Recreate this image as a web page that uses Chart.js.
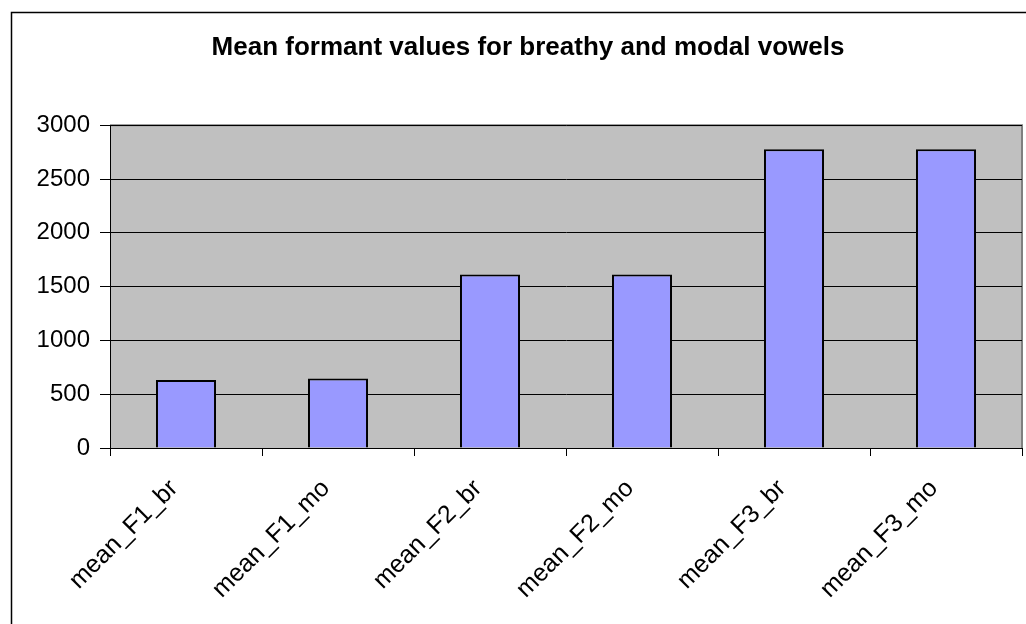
<!DOCTYPE html>
<html>
<head>
<meta charset="utf-8">
<script src="https://cdn.jsdelivr.net/npm/chart.js@4"></script>
<style>
  html, body { margin: 0; padding: 0; background: #fff; }
  #wrap { width: 1026px; height: 624px; position: relative; }
</style>
</head>
<body>
<div id="wrap"><canvas id="chart" width="1026" height="624"></canvas></div>
<script>
// Daten
const kategorien = ['mean_F1_br', 'mean_F1_mo', 'mean_F2_br', 'mean_F2_mo', 'mean_F3_br', 'mean_F3_mo'];
const mittelwerte = [631, 647, 1613, 1613, 2776, 2776];
const yTicks = [0, 500, 1000, 1500, 2000, 2500, 3000];

// Rahmen und grauer Plotbereich
const hintergrund = {
  id: 'hintergrund',
  beforeDraw(chart) {
    const { ctx, chartArea: a } = chart;
    ctx.save();
    ctx.strokeStyle = '#000';
    ctx.lineWidth = 1.5;
    ctx.beginPath();
    ctx.moveTo(11.5, 630);
    ctx.lineTo(11.5, 12.5);
    ctx.lineTo(1030, 12.5);
    ctx.stroke();
    ctx.fillStyle = '#c0c0c0';
    ctx.fillRect(a.left, a.top, a.right - a.left, a.bottom - a.top);
    ctx.strokeStyle = '#808080';
    ctx.lineWidth = 2;
    ctx.beginPath();
    ctx.moveTo(a.left, a.top);
    ctx.lineTo(a.right, a.top);
    ctx.lineTo(a.right, a.bottom);
    ctx.stroke();
    ctx.restore();
  }
};

new Chart(document.getElementById('chart'), {
  type: 'bar',
  data: {
    labels: kategorien,
    datasets: [{
      data: mittelwerte,
      backgroundColor: '#9999ff',
      borderColor: '#000',
      borderWidth: 2,
      categoryPercentage: 1,
      barPercentage: 0.395
    }]
  },
  options: {
    responsive: false,
    animation: false,
    layout: { padding: { left: 34, right: 4, top: 0, bottom: 0 } },
    plugins: {
      legend: { display: false },
      tooltip: { enabled: false },
      title: {
        display: true,
        text: 'Mean formant values for breathy and modal vowels',
        color: '#000',
        font: { family: 'Liberation Sans, Arial', size: 26, weight: 'bold' },
        padding: { top: 32, bottom: 62 }
      }
    },
    scales: {
      x: {
        grid: { display: true, drawOnChartArea: false, offset: true, color: '#000', tickLength: 8 },
        border: { color: '#000', width: 1 },
        ticks: {
          color: '#000',
          font: { family: 'Liberation Sans, Arial', size: 25 },
          minRotation: 45,
          maxRotation: 45,
          padding: 18,
          labelOffset: -12
        },
        afterFit(scale) { scale.height = 176; }
      },
      y: {
        min: 0,
        max: 3000,
        afterBuildTicks(scale) { scale.ticks = yTicks.map(v => ({ value: v })); },
        grid: { color: '#000', tickLength: 10 },
        border: { color: '#000', width: 1 },
        ticks: {
          color: '#000',
          font: { family: 'Liberation Sans, Arial', size: 24 },
          padding: 10,
          callback: v => String(v)
        },
        afterFit(scale) { scale.width = 76; }
      }
    }
  },
  plugins: [hintergrund]
});
</script>
</body>
</html>
